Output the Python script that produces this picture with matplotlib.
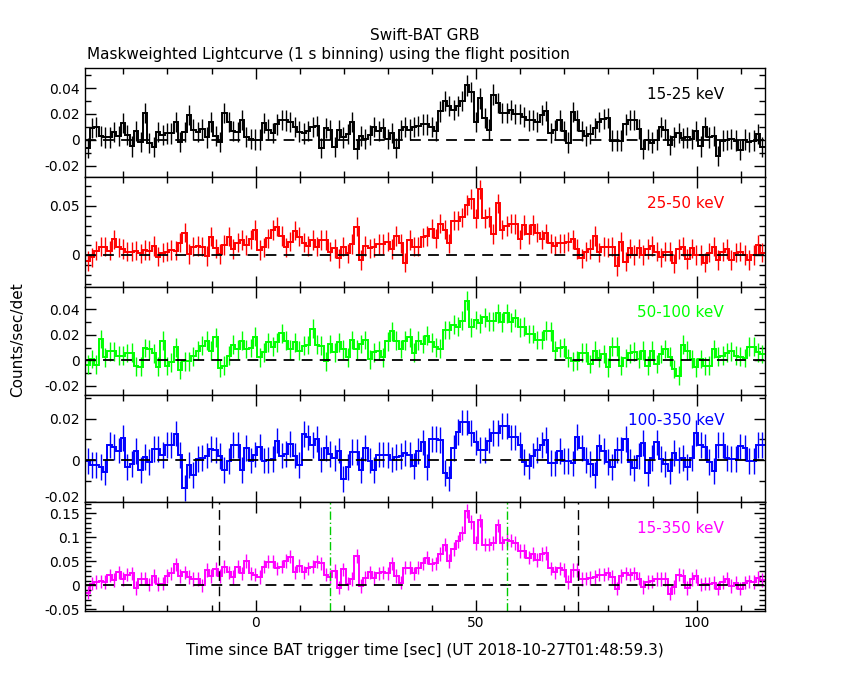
import numpy as np
import matplotlib
matplotlib.use("Agg")
import matplotlib.pyplot as plt
import matplotlib.transforms as mtransforms
from matplotlib.ticker import MultipleLocator

# 1 s bins, first bin edge (s since trigger)
t0 = -38.6

rate_15_25 = [
    -0.006, 0.009, 0.010, 0.003, 0.002, 0.002, 0.006, 0.003, 0.013, 0.004,
    -0.005, 0.007, -0.0015, 0.021, -0.0025, -0.0056, 0.006, 0.004, 0.005, 0.005,
    0.014, -0.0015, 0.006, 0.019, 0.008, 0.006, 0.0085, 0.002, 0.014, 0.003,
    -0.0015, 0.0205, 0.014, 0.007, 0.006, 0.0155, 0.0025, 0.001, 0.0003, 0.0003,
    0.013, 0.008, 0.0055, 0.012, 0.0155, 0.015, 0.014, 0.010, 0.0065, 0.005,
    0.007, 0.010, 0.011, -0.0064, 0.009, 0.0075, -0.0056, 0.0075, 0.002, 0.0045,
    0.014, -0.007, 0.003, 0.0005, 0.004, 0.010, 0.007, 0.009, 0.0005, 0.0055,
    -0.0064, 0.0075, 0.010, 0.008, 0.010, 0.011,
    0.012, 0.012, 0.010, 0.007, 0.022, 0.030, 0.026, 0.023, 0.026, 0.030,
    0.042, 0.037, 0.014, 0.032, 0.017, 0.008, 0.035, 0.0285, 0.021, 0.021,
    0.023, 0.020, 0.020, 0.0175, 0.015, 0.0155, 0.014, 0.0195, 0.0225, 0.0055,
    0.0075, 0.015, 0.007, -0.002, 0.0215, 0.015, 0.007, 0.003, 0.0045, 0.009,
    0.014, 0.016, 0.017, -0.0005, -0.0005, -0.0005, 0.012, 0.0155, 0.0155, 0.0085,
    -0.007, 0.0003, -0.002, 0.0003, 0.010, 0.008, -0.0036, 0.0023, 0.0055, 0.0015,
    0.002, 0.001, 0.007, -0.005, 0.010, 0.002, 0.003, -0.0125, -0.0005, 0.0,
    0.0008, -0.0005, -0.0077, 0.0003, -0.0015, -0.0005, 0.0045, -0.0056,
]

rate_25_50 = [
    -0.006, -0.0024, 0.0044, 0.0085, 0.0085, 0.0044, 0.016, 0.0078, 0.0058, 0.0034,
    0.0034, 0.0044, 0.0017, 0.005, 0.0044, 0.009, -0.0017, 0.0024, 0.0034, 0.005,
    0.0044, 0.0126, 0.0228, 0.001, 0.0085, 0.009, 0.0085, -0.001, 0.0187, 0.0068,
    0.001, 0.0102, 0.0187, 0.0058, 0.0126, 0.0153, 0.0102, 0.016, 0.0255, 0.005,
    0.0078, 0.017, 0.0255, 0.029, 0.0194, 0.0078, 0.0136, 0.0248, 0.0187, 0.0126,
    0.009, 0.0153, 0.0085, 0.0153, 0.0153, 0.0034, 0.0068, -0.0034, 0.0085, 0.0017,
    0.0112, 0.029, -0.0051, 0.009, 0.0068, 0.0078, 0.0112, 0.0112, 0.0136, 0.0058,
    0.0194, 0.0119, -0.0078, 0.0153, 0.0085, 0.0085, 0.018,
    0.0194, 0.027, 0.017, 0.032, 0.026, 0.0119, 0.035, 0.035, 0.0384, 0.051,
    0.057, 0.0374, 0.067, 0.0374, 0.039, 0.0214, 0.0527, 0.026, 0.0296, 0.032,
    0.0316, 0.016, 0.0306, 0.0214, 0.0306, 0.0228, 0.016, 0.022, 0.0119, 0.0095,
    0.0119, 0.0119, 0.0136, 0.016, 0.0058, -0.0034, 0.0034, 0.006, 0.0194, 0.0027,
    0.0085, 0.0078, 0.0085, -0.0112, 0.0136, -0.0068, 0.0068, 0.0, 0.0068, 0.0,
    0.0058, 0.009, 0.0034, -0.0024, 0.0034, 0.0034, -0.0085, 0.0058, 0.0085, -0.004,
    0.0068, 0.0, 0.0, -0.0078, 0.0024, 0.0085, -0.0051, 0.0034, 0.0058, -0.0051,
    0.0024, 0.0034, 0.0, -0.0051, 0.0, 0.0102, 0.0024,
]

rate_50_100 = [
    -0.0034, 0.001, -0.0034, 0.0167, 0.0024, 0.007, 0.007, 0.0037, 0.0037, 0.0057,
    0.006, -0.0047, -0.005, 0.0097, 0.0086, 0.0055, -0.005, 0.0154, -0.0044, -0.0016,
    0.0102, -0.0076, -0.0008, -0.0008, 0.0031, 0.0076, 0.0115, 0.0154, 0.0076, 0.018,
    -0.006, -0.0042, 0.0037, 0.0123, 0.0086, 0.0154, 0.0089, 0.0097, 0.0185, 0.0024,
    0.0063, 0.0141, 0.0107, 0.0141, 0.0211, 0.0154, 0.0086, 0.0141, 0.0076, 0.0115,
    0.012, 0.0248, 0.0123, 0.0115, -0.0008, 0.0128, 0.0063, 0.0141, 0.0086, 0.0024,
    0.0159, 0.0086, 0.0128, 0.0159, 0.0008, 0.0063, 0.0076, 0.0024, 0.0149, 0.0227,
    0.0154, 0.0089, 0.0154, 0.018, 0.006, 0.0154, 0.0128, 0.0193, 0.0141, 0.0102,
    0.0091, 0.0238, 0.0238, 0.028, 0.0264, 0.0311, 0.0467, 0.0258, 0.0316, 0.029,
    0.0337, 0.0305, 0.0305, 0.0368, 0.0298, 0.0368, 0.0298, 0.0331, 0.0258, 0.0264,
    0.0206, 0.0206, 0.0159, 0.0159, 0.0232, 0.0227, 0.0076, 0.0097, 0.0102, 0.0018,
    -0.0008, -0.0003, 0.006, 0.006, -0.0029, 0.0076, 0.0018, 0.005, -0.0055, 0.0107,
    0.0107, -0.0042, 0.0018, 0.0055, 0.0068, 0.001, 0.0076, -0.0042, 0.0076, -0.0029,
    0.005, 0.0089, 0.0029, -0.0068, -0.012, 0.0123, 0.0076, 0.001, -0.0055, 0.001,
    -0.0044, -0.0042, 0.0089, 0.0029, 0.0037, 0.006, 0.007, 0.0037, 0.0029, 0.0018,
    0.0107, 0.0107, 0.0063, 0.005,
]

rate_100_350 = [
    -0.0005, -0.0022, -0.0022, -0.0031, -0.0055, 0.0074, 0.0063, 0.0046, 0.0106, -0.0031,
    -0.002, 0.0043, -0.0047, 0.0014, -0.0009, 0.0054, 0.0054, 0.0025, 0.0074, 0.0074,
    0.0128, 0.0024, -0.0135, -0.0025, -0.0072, 0.0005, 0.0011, 0.0022, 0.0054, 0.0047,
    0.0019, -0.0047, -0.0005, 0.0074, 0.0074, -0.0049, 0.0058, -0.0002, 0.0027, 0.0063,
    -0.0002, 0.0, 0.0006, 0.0094, 0.0022, 0.003, 0.0079, 0.0022, -0.0022, 0.0124,
    0.0109, 0.0074, 0.0101, 0.0003, 0.0058, 0.003, 0.0011, 0.0046, -0.0091, -0.0033,
    0.0038, 0.0038, -0.0047, 0.0058, -0.0002, -0.0047, 0.0027, 0.0027, 0.0024, 0.0003,
    0.0014, 0.0019, 0.0035, 0.0027, -0.0028, 0.0043, 0.0085, -0.0031, 0.0102, 0.0102,
    0.0098, -0.0063, -0.0088, 0.0058, 0.0137, 0.0181, 0.0181, 0.0132, 0.0085, 0.005,
    0.005, 0.0094, 0.0132, 0.0132, 0.0164, 0.0164, 0.0109, 0.0109, 0.0074, -0.0009,
    -0.0028, 0.0022, 0.0047, 0.0074, 0.0098, -0.0013, -0.0016, 0.0043, -0.0005, -0.0005,
    -0.0016, 0.0113, 0.0058, 0.0, -0.002, -0.0072, 0.0066, 0.0043, -0.0009, -0.0031,
    0.005, 0.005, 0.0101, -0.0009, -0.0039, 0.0019, 0.0082, -0.006, 0.0011, 0.0085,
    0.0006, -0.002, -0.0052, 0.0035, 0.0, 0.0011, -0.0031, 0.0011, 0.0129, 0.0074,
    0.0063, -0.0009, -0.0052, 0.0074, 0.0074, 0.0011, 0.0006, 0.0006, 0.0066, 0.0058,
    -0.0005, -0.0005, 0.0074, 0.0074,
]

rate_15_350 = [
    -0.0155, 0.0035, 0.007, 0.0085, 0.007, 0.021, 0.0106, 0.0268, 0.0127, 0.0225,
    0.0246, -0.0056, 0.0141, 0.0141, 0.0014, 0.019, 0.0028, 0.0035, 0.0197, 0.0246,
    0.0437, 0.0197, 0.0268, 0.0176, 0.0127, 0.0127, 0.0, 0.0317, 0.0197, 0.0338,
    0.0197, 0.0387, 0.0268, 0.0169, 0.0387, 0.0246, 0.0507, 0.0246, 0.0225, 0.0176,
    0.0387, 0.0493, 0.0493, 0.0352, 0.0387, 0.0507, 0.0598, 0.0268, 0.0408, 0.0268,
    0.0352, 0.0387, 0.0493, 0.0458, 0.0225, 0.0176, 0.0296, -0.0049, 0.0331, 0.0035,
    0.0127, 0.0613, -0.0014, 0.0155, 0.0268, 0.0155, 0.0246, 0.0268, 0.0246, 0.0458,
    0.0197, 0.0056, 0.0366, 0.0366, 0.0246, 0.0366, 0.0458,
    0.0577, 0.0437, 0.0458, 0.0648, 0.0845, 0.0507, 0.076, 0.0915, 0.109, 0.155,
    0.132, 0.088, 0.135, 0.0845, 0.0845, 0.088, 0.125, 0.088, 0.095, 0.093,
    0.088, 0.0718, 0.0718, 0.0577, 0.0648, 0.0528, 0.0648, 0.0669, 0.0352, 0.0268,
    0.0352, 0.0317, 0.007, 0.0317, 0.0317, 0.0127, 0.0141, 0.0155, 0.0176, 0.0225,
    0.0225, 0.0246, 0.0176, -0.007, 0.0197, 0.0246, 0.0225, 0.0246, 0.0141, -0.0035,
    0.007, 0.0085, 0.0127, 0.0127, 0.0127, -0.0176, -0.0035, 0.0225, 0.0197, -0.0056,
    0.0127, 0.0197, 0.0014, 0.0035, 0.0035, 0.0056, -0.007, 0.007, 0.0141, -0.0014,
    0.0056, -0.007, 0.0056, 0.0085, 0.007, 0.0155, 0.0106,
]

bands = ["15-25 keV", "25-50 keV", "50-100 keV", "100-350 keV", "15-350 keV"]
rates = [rate_15_25, rate_25_50, rate_50_100, rate_100_350, rate_15_350]
errors = [0.0078, 0.0100, 0.0073, 0.0062, 0.0140]

# T90 / T100 markers (s)
t90_edges = [16.9, 57.05]
t100_edges = [-8.25, 73.2]

colors = ["black", "#ff0000", "#00ff00", "#0000ff", "#ff00ff"]
ylims = [(-0.0285, 0.0554), (-0.0327, 0.0796), (-0.0272, 0.0575),
         (-0.0201, 0.0313), (-0.0535, 0.1735)]
ymajor = [0.02, 0.05, 0.02, 0.02, 0.05]

# panel edges in pixels (top, bottom) on an 850x680 canvas
rows = [(68, 177), (177, 287), (287, 395), (395, 502), (502, 611)]

fig = plt.figure(figsize=(8.5, 6.8), dpi=100)
axes = []
for i, (top, bot) in enumerate(rows):
    ax = fig.add_axes([85 / 850, 1 - bot / 680, 680 / 850, (bot - top) / 680])
    vals = np.array(rates[i])
    edges = t0 + np.arange(len(vals) + 1)
    mids = edges[:-1] + 0.5
    ax.vlines(mids, vals - errors[i], vals + errors[i], color=colors[i], lw=1.0)
    ax.stairs(vals, edges, color=colors[i], lw=1.4, baseline=None)
    ax.axhline(0, color="black", lw=1.3, ls=(0, (6, 4)))

    ax.set_xlim(-38.7, 115.5)
    ax.set_ylim(*ylims[i])
    ax.xaxis.set_major_locator(MultipleLocator(50))
    ax.xaxis.set_minor_locator(MultipleLocator(10))
    ax.yaxis.set_major_locator(MultipleLocator(ymajor[i]))
    ax.yaxis.set_minor_locator(MultipleLocator(0.01))
    ax.tick_params(which="both", direction="in", top=True, right=True,
                   labelsize=10, width=1.0)
    ax.tick_params(which="major", length=8)
    ax.tick_params(which="minor", length=4)
    ax.yaxis.set_major_formatter(
        matplotlib.ticker.FuncFormatter(lambda v, p: "0" if abs(v) < 1e-9 else f"{v:g}"))
    for s in ax.spines.values():
        s.set_linewidth(1.0)
    if i < len(rows) - 1:
        ax.tick_params(labelbottom=False)
    ax.text(0.94, 0.76, bands[i], transform=ax.transAxes, ha="right",
            va="center", color=colors[i], fontsize=11)
    axes.append(ax)

# the lowest label of the 100-350 keV panel sits on the panel border; lift it a little
fig.canvas.draw()
lift = mtransforms.ScaledTranslation(0, 4 / 72, fig.dpi_scale_trans)
for lab in axes[3].get_yticklabels():
    if lab.get_text().startswith("-0.02") or lab.get_text().startswith("\u22120.02"):
        lab.set_transform(lab.get_transform() + lift)

ax = axes[-1]
for t in t100_edges:
    ax.axvline(t, color="black", lw=1.0, ls=(0, (7, 4)))
for t in t90_edges:
    ax.axvline(t, color="#00cc00", lw=1.0, ls=(0, (6, 2, 1, 2)))

fig.text(0.5, 1 - 35 / 680, "Swift-BAT GRB", ha="center", va="center", fontsize=11)
fig.text(87 / 850, 1 - 55 / 680,
         "Maskweighted Lightcurve (1 s binning) using the flight position",
         ha="left", va="center", fontsize=11)
fig.text(18 / 850, 0.5, "Counts/sec/det", rotation=90, ha="center",
         va="center", fontsize=11)
fig.text(0.5, 1 - 650 / 680,
         "Time since BAT trigger time [sec] (UT 2018-10-27T01:48:59.3)",
         ha="center", va="center", fontsize=11)

fig.savefig("out.png", dpi=100, facecolor="white")
